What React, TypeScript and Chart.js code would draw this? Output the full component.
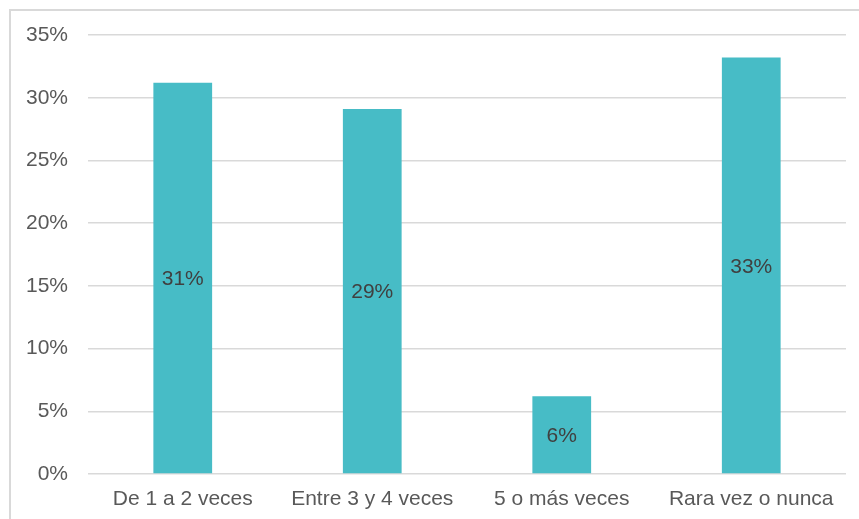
import React, { useEffect, useRef } from "react";
import { Chart, registerables } from "chart.js";

Chart.register(...registerables);

const categories = ["De 1 a 2 veces", "Entre 3 y 4 veces", "5 o más veces", "Rara vez o nunca"];
const values = [31.2, 29.1, 6.2, 33.2];
const yTicks = [0, 5, 10, 15, 20, 25, 30, 35];

const FONT = "'Liberation Sans', Arial, sans-serif";

const barLabels = {
  id: "barLabels",
  afterDatasetsDraw(chart: any) {
    const ctx = chart.ctx;
    const meta = chart.getDatasetMeta(0);
    ctx.save();
    ctx.font = `21px ${FONT}`;
    ctx.fillStyle = "#404040";
    ctx.textAlign = "center";
    ctx.textBaseline = "middle";
    meta.data.forEach((el: any, i: number) => {
      const v = chart.data.datasets[0].data[i];
      const cy = (el.y + el.base) / 2 + 1.5;
      ctx.fillText(Math.round(v) + "%", el.x, cy);
    });
    ctx.restore();
  },
};

export default function App() {
  const ref = useRef<HTMLCanvasElement>(null);
  useEffect(() => {
    document.body.style.margin = "0";
    const chart = new Chart(ref.current!, {
      type: "bar",
      data: {
        labels: categories,
        datasets: [
          {
            data: values,
            backgroundColor: "#47BCC6",
            borderWidth: 0,
            barPercentage: 0.31,
            categoryPercentage: 1,
          },
        ],
      },
      options: {
        animation: false,
        responsive: false,
        devicePixelRatio: 1,
        layout: { padding: { top: 35, right: 13, left: 0, bottom: 0 } },
        plugins: { legend: { display: false }, tooltip: { enabled: false } },
        scales: {
          x: {
            grid: { display: false, drawTicks: false },
            border: { display: false },
            ticks: {
              color: "#595959",
              font: { family: FONT, size: 21 },
              padding: 13,
              maxRotation: 0,
            },
            afterFit(scale: any) {
              scale.height = 45;
            },
          },
          y: {
            min: 0,
            max: 35,
            afterBuildTicks(scale: any) {
              scale.ticks = yTicks.map((v) => ({ value: v }));
            },
            grid: { color: "#D9D9D9", lineWidth: 1.5, drawTicks: false },
            border: { display: false },
            ticks: {
              color: "#595959",
              font: { family: FONT, size: 21 },
              padding: 20,
              callback: (v: any) => v + "%",
            },
            afterFit(scale: any) {
              scale.width = 88;
            },
          },
        },
      },
      plugins: [barLabels],
    });
    return () => chart.destroy();
  }, []);
  return (
    <div style={{ position: "fixed", left: 0, top: 0, width: 859, height: 519, background: "#fff", overflow: "hidden" }}>
      <div
        style={{
          position: "absolute",
          left: 9,
          top: 9,
          width: 870,
          height: 530,
          border: "2px solid #D9D9D9",
          boxSizing: "border-box",
        }}
      />
      <canvas ref={ref} width={859} height={519} style={{ position: "absolute", left: 0, top: 0 }} />
    </div>
  );
}
